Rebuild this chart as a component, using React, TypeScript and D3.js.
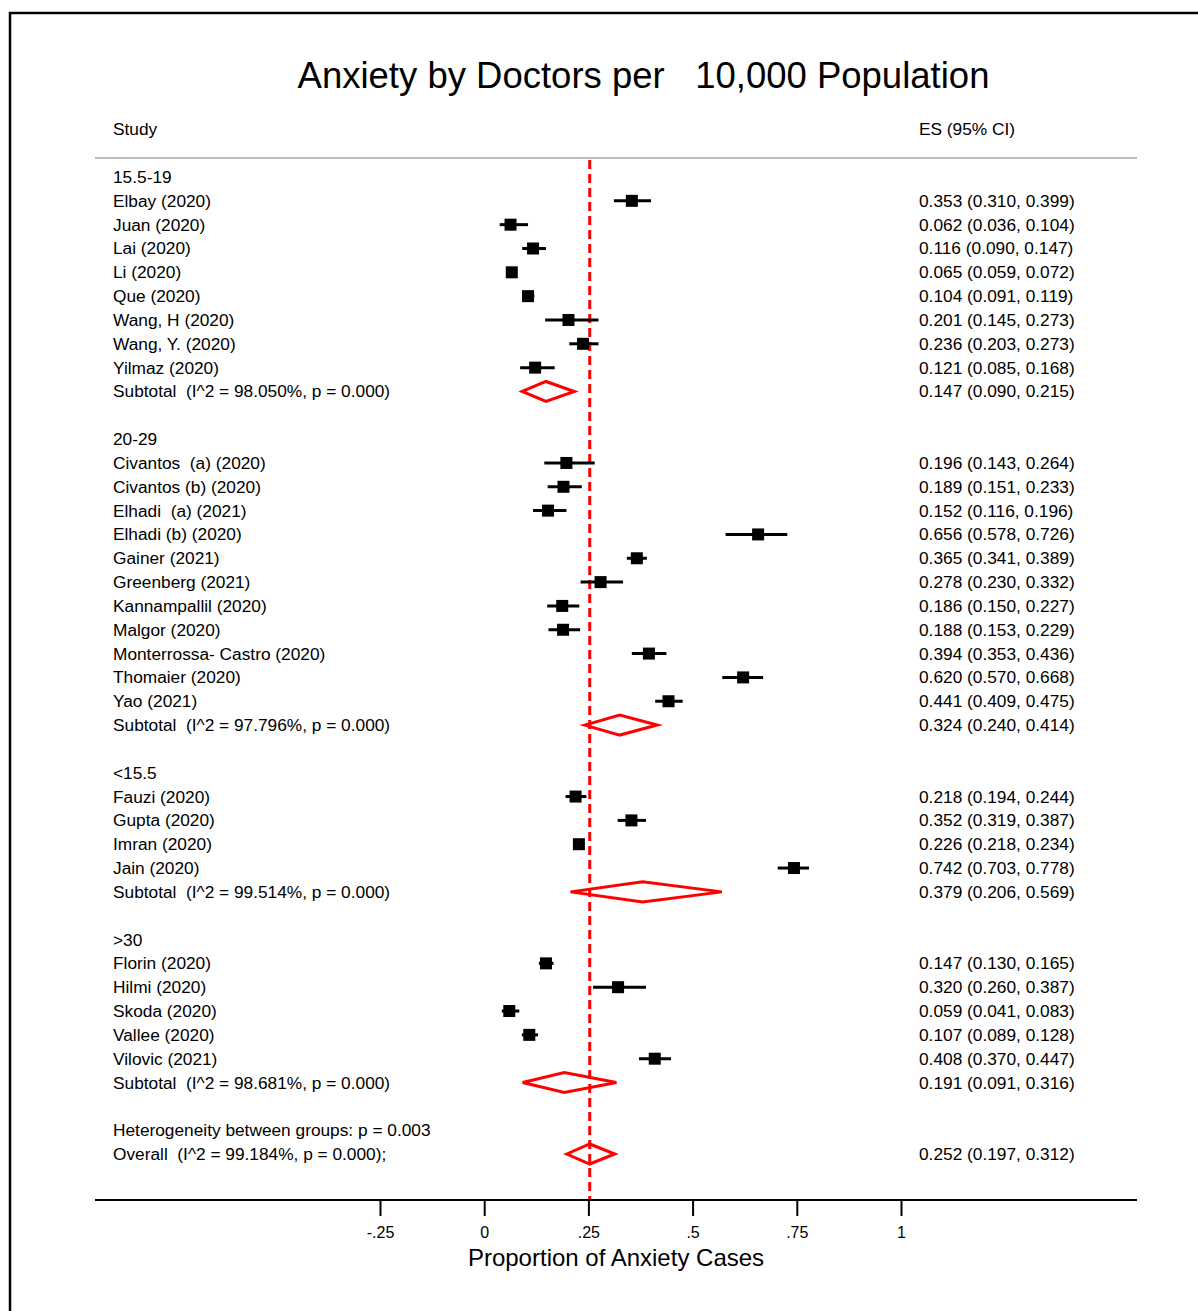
import React from "react";
import * as d3 from "d3";

// Chart text
const titleText = "Anxiety by Doctors per   10,000 Population";
const axisTitle = "Proportion of Anxiety Cases";
const axisTicks = [-0.25, 0, 0.25, 0.5, 0.75, 1];
const axisTickLabels = ["-.25", "0", ".25", ".5", ".75", "1"];

// Subgroups (bands of doctors per 10,000)
const groupLabels = ["15.5-19", "20-29", "<15.5", ">30"];

// Individual studies
const studyNames = [
  "Elbay (2020)", "Juan (2020)", "Lai (2020)", "Li (2020)", "Que (2020)",
  "Wang, H (2020)", "Wang, Y. (2020)", "Yilmaz (2020)",
  "Civantos  (a) (2020)", "Civantos (b) (2020)", "Elhadi  (a) (2021)", "Elhadi (b) (2020)",
  "Gainer (2021)", "Greenberg (2021)", "Kannampallil (2020)", "Malgor (2020)",
  "Monterrossa- Castro (2020)", "Thomaier (2020)", "Yao (2021)",
  "Fauzi (2020)", "Gupta (2020)", "Imran (2020)", "Jain (2020)",
  "Florin (2020)", "Hilmi (2020)", "Skoda (2020)", "Vallee (2020)", "Vilovic (2021)",
];
const studyGroup = [
  0, 0, 0, 0, 0, 0, 0, 0,
  1, 1, 1, 1, 1, 1, 1, 1, 1, 1, 1,
  2, 2, 2, 2,
  3, 3, 3, 3, 3,
];
const studyES = [
  0.353, 0.062, 0.116, 0.065, 0.104, 0.201, 0.236, 0.121,
  0.196, 0.189, 0.152, 0.656, 0.365, 0.278, 0.186, 0.188, 0.394, 0.62, 0.441,
  0.218, 0.352, 0.226, 0.742,
  0.147, 0.32, 0.059, 0.107, 0.408,
];
const studyLow = [
  0.31, 0.036, 0.09, 0.059, 0.091, 0.145, 0.203, 0.085,
  0.143, 0.151, 0.116, 0.578, 0.341, 0.23, 0.15, 0.153, 0.353, 0.57, 0.409,
  0.194, 0.319, 0.218, 0.703,
  0.13, 0.26, 0.041, 0.089, 0.37,
];
const studyHigh = [
  0.399, 0.104, 0.147, 0.072, 0.119, 0.273, 0.273, 0.168,
  0.264, 0.233, 0.196, 0.726, 0.389, 0.332, 0.227, 0.229, 0.436, 0.668, 0.475,
  0.244, 0.387, 0.234, 0.778,
  0.165, 0.387, 0.083, 0.128, 0.447,
];

// Subgroup pooled estimates
const subtotalI2 = [98.05, 97.796, 99.514, 98.681];
const subtotalES = [0.147, 0.324, 0.379, 0.191];
const subtotalLow = [0.09, 0.24, 0.206, 0.091];
const subtotalHigh = [0.215, 0.414, 0.569, 0.316];

// Overall pooled estimate
const overallI2 = 99.184;
const overallES = 0.252;
const overallLow = 0.197;
const overallHigh = 0.312;
const heterogeneityP = 0.003;

type Row =
  | { kind: "group"; label: string }
  | { kind: "study"; label: string; es: number; lo: number; hi: number }
  | { kind: "subtotal"; label: string; es: number; lo: number; hi: number }
  | { kind: "text"; label: string }
  | { kind: "overall"; label: string; es: number; lo: number; hi: number }
  | { kind: "blank" };

const f3 = d3.format(".3f");

function buildRows(): Row[] {
  const rows: Row[] = [];
  groupLabels.forEach((g, gi) => {
    rows.push({ kind: "group", label: g });
    studyNames.forEach((n, i) => {
      if (studyGroup[i] === gi)
        rows.push({ kind: "study", label: n, es: studyES[i], lo: studyLow[i], hi: studyHigh[i] });
    });
    rows.push({
      kind: "subtotal",
      label: `Subtotal  (I^2 = ${f3(subtotalI2[gi])}%, p = 0.000)`,
      es: subtotalES[gi], lo: subtotalLow[gi], hi: subtotalHigh[gi],
    });
    rows.push({ kind: "blank" });
  });
  rows.push({ kind: "text", label: `Heterogeneity between groups: p = ${f3(heterogeneityP)}` });
  rows.push({
    kind: "overall",
    label: `Overall  (I^2 = ${f3(overallI2)}%, p = 0.000);`,
    es: overallES, lo: overallLow, hi: overallHigh,
  });
  return rows;
}

const W = 1198;
const H = 1311;
const FONT = "'Liberation Sans', Arial, Helvetica, sans-serif";
const ROW_FS = 17.3;

export default function App() {
  const rows = buildRows();
  const x = d3.scaleLinear().domain([0, 1]).range([484.7, 901.5]);
  const y = d3.scaleLinear().domain([0, rows.length - 1]).range([177, 1154]);
  const axisY = 1200;
  const box = 12;
  const dh = 10;
  const red = "#ff0000";

  const diamond = (r: { es: number; lo: number; hi: number }, yy: number) =>
    `M${x(r.lo)},${yy} L${x(r.es)},${yy - dh} L${x(r.hi)},${yy} L${x(r.es)},${yy + dh} Z`;

  return (
    <div style={{ position: "absolute", left: 0, top: 0 }}>
      <svg width={W} height={H} style={{ display: "block", background: "#fff" }} fontFamily={FONT}>
        {/* frame */}
        <line x1={10} y1={12} x2={10} y2={H} stroke="#000" strokeWidth={2.5} />
        <line x1={9} y1={13} x2={W} y2={13} stroke="#000" strokeWidth={2.5} />

        <text x={643.5} y={88} fontSize={36.5} textAnchor="middle" style={{ whiteSpace: "pre" }}>
          {titleText}
        </text>

        <text x={113} y={135} fontSize={ROW_FS}>Study</text>
        <text x={919} y={135} fontSize={ROW_FS}>ES (95% CI)</text>
        <line x1={95} x2={1137} y1={158} y2={158} stroke="#bdbdbd" strokeWidth={2} />

        {/* reference line at overall estimate */}
        <line
          x1={x(overallES)} x2={x(overallES)} y1={160} y2={axisY}
          stroke={red} strokeWidth={3} strokeDasharray="9,5"
        />

        {rows.map((r, i) => {
          const yy = y(i);
          if (r.kind === "blank") return null;
          const label = (
            <text key={`l${i}`} x={113} y={yy + 6} fontSize={ROW_FS} style={{ whiteSpace: "pre" }}>
              {r.label}
            </text>
          );
          if (r.kind === "group" || r.kind === "text") return label;
          const es = (
            <text key={`e${i}`} x={919} y={yy + 6} fontSize={ROW_FS}>
              {`${f3(r.es)} (${f3(r.lo)}, ${f3(r.hi)})`}
            </text>
          );
          if (r.kind === "study") {
            return (
              <g key={i}>
                {label}
                <line x1={x(r.lo)} x2={x(r.hi)} y1={yy} y2={yy} stroke="#000" strokeWidth={3} />
                <rect x={x(r.es) - box / 2} y={yy - box / 2} width={box} height={box} fill="#000" />
                {es}
              </g>
            );
          }
          return (
            <g key={i}>
              {label}
              <path d={diamond(r, yy)} fill="none" stroke={red} strokeWidth={3} strokeLinejoin="miter" />
              {es}
            </g>
          );
        })}

        {/* x axis */}
        <line x1={95} x2={1137} y1={axisY} y2={axisY} stroke="#000" strokeWidth={2} />
        {axisTicks.map((t, i) => (
          <g key={t}>
            <line x1={x(t)} x2={x(t)} y1={axisY} y2={axisY + 16} stroke="#000" strokeWidth={2} />
            <text x={x(t)} y={axisY + 38} fontSize={16} textAnchor="middle">
              {axisTickLabels[i]}
            </text>
          </g>
        ))}
        <text x={616} y={1266} fontSize={24} textAnchor="middle">{axisTitle}</text>
      </svg>
    </div>
  );
}
